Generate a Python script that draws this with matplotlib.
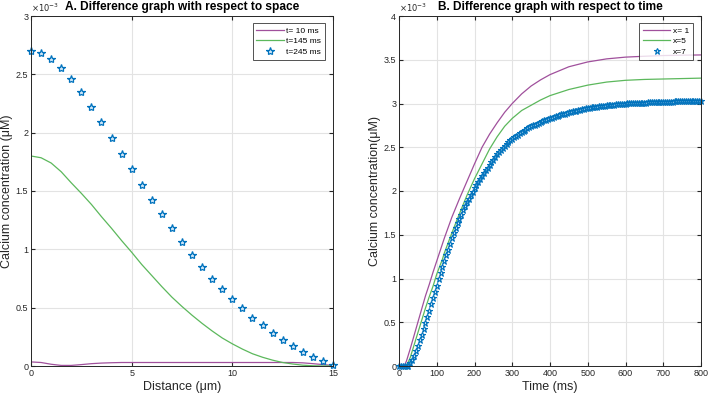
import matplotlib.pyplot as plt
import numpy as np
from matplotlib.ticker import FuncFormatter

plt.rcParams['font.family'] = ['Liberation Sans', 'DejaVu Sans']

# ---- panel A: concentration (x1e-3 uM) vs distance (um) ----
dist = [0, 0.5, 1, 1.5, 2, 2.5, 3, 3.5, 4, 4.5, 5, 5.5, 6, 6.5, 7, 7.5,
        8, 8.5, 9, 9.5, 10, 10.5, 11, 11.5, 12, 12.5, 13, 13.5, 14, 14.5, 15]
t10 = [0.035, 0.03, 0.015, 0.005, 0.005, 0.012, 0.02, 0.025, 0.028, 0.03, 0.03,
       0.03, 0.03, 0.03, 0.03, 0.03, 0.03, 0.03, 0.03, 0.03, 0.03, 0.03, 0.03,
       0.03, 0.03, 0.03, 0.03, 0.027, 0.02, 0.012, 0.005]
t145 = [1.80, 1.785, 1.74, 1.665, 1.57, 1.48, 1.385, 1.28, 1.18, 1.075, 0.975,
        0.87, 0.775, 0.68, 0.59, 0.51, 0.435, 0.365, 0.30, 0.24, 0.19, 0.145,
        0.105, 0.075, 0.05, 0.03, 0.017, 0.007, 0.002, 0.0, 0.0]
t245 = [2.70, 2.683, 2.631, 2.556, 2.458, 2.346, 2.222, 2.095, 1.957, 1.818,
        1.689, 1.550, 1.424, 1.306, 1.18, 1.066, 0.954, 0.851, 0.749, 0.66,
        0.574, 0.494, 0.414, 0.349, 0.286, 0.223, 0.171, 0.12, 0.08, 0.04, 0.005]

# ---- panel B: concentration (x1e-3 uM) vs time (ms) ----
tx1 = [0, 10, 15, 20, 30, 40, 50, 60, 70, 80, 90, 100, 120, 140, 160, 180, 200,
       220, 240, 260, 280, 300, 325, 350, 375, 400, 450, 500, 550, 600, 650,
       700, 750, 800]
x1 = [0, 0, 0.01, 0.06, 0.2, 0.35, 0.5, 0.65, 0.8, 0.93, 1.07, 1.2, 1.46, 1.70,
      1.91, 2.11, 2.31, 2.50, 2.65, 2.78, 2.90, 3.00, 3.11, 3.20, 3.27, 3.33,
      3.42, 3.475, 3.51, 3.53, 3.54, 3.548, 3.552, 3.555]
tx5 = [0, 15, 20, 25, 30, 40, 50, 60, 70, 80, 90, 100, 115, 120, 140, 160, 180,
       200, 220, 240, 260, 280, 300, 325, 350, 375, 400, 450, 500, 550, 600,
       650, 700, 750, 800]
x5 = [0, 0, 0.01, 0.05, 0.1, 0.24, 0.38, 0.52, 0.66, 0.79, 0.91, 1.05, 1.22,
      1.29, 1.52, 1.74, 1.95, 2.14, 2.31, 2.48, 2.62, 2.74, 2.83, 2.92, 2.98,
      3.04, 3.09, 3.16, 3.21, 3.245, 3.265, 3.275, 3.28, 3.285, 3.29]
tx7 = np.arange(0, 805, 5)
x7 = [0, 0, 0, 0, 0, 0.005, 0.03, 0.07, 0.12, 0.175,
      0.23, 0.295, 0.36, 0.425, 0.49, 0.56, 0.63, 0.705, 0.78, 0.85,
      0.92, 0.99, 1.06, 1.13, 1.20, 1.265, 1.33, 1.395, 1.46, 1.52,
      1.575, 1.63, 1.68, 1.73, 1.78, 1.825, 1.87, 1.91, 1.95, 1.99,
      2.03, 2.065, 2.10, 2.135, 2.17, 2.20, 2.235, 2.265, 2.30, 2.33,
      2.36, 2.39, 2.42, 2.445, 2.47, 2.495, 2.52, 2.54, 2.56, 2.58,
      2.60, 2.615, 2.63, 2.645, 2.66, 2.675, 2.69, 2.70, 2.715, 2.73,
      2.74, 2.75, 2.76, 2.77, 2.78, 2.79, 2.80, 2.81, 2.815, 2.825,
      2.83, 2.84, 2.845, 2.855, 2.86, 2.865, 2.875, 2.88, 2.885, 2.89,
      2.90, 2.905, 2.91, 2.915, 2.92, 2.925, 2.93, 2.935, 2.94, 2.945,
      2.95, 2.953, 2.956, 2.959, 2.962, 2.965, 2.968, 2.971, 2.974, 2.977,
      2.98, 2.982, 2.984, 2.986, 2.988, 2.99, 2.992, 2.994, 2.996, 2.998,
      3.0, 3.001, 3.002, 3.003, 3.004, 3.005, 3.006, 3.007, 3.008, 3.009,
      3.01, 3.011, 3.012, 3.013, 3.014, 3.015, 3.016, 3.017, 3.018, 3.019,
      3.02, 3.02, 3.021, 3.021, 3.022, 3.022, 3.023, 3.023, 3.024, 3.024,
      3.025, 3.025, 3.026, 3.026, 3.027, 3.027, 3.028, 3.028, 3.029, 3.029,
      3.03]

purple = '#a0509c'
green = '#5cb85c'
blue = '#0072bd'
dark = '#262626'

fig = plt.figure(figsize=(7.08, 3.97), dpi=100)
ax1 = fig.add_axes([31/708, 31/397, 302/708, 350/397])
ax2 = fig.add_axes([399/708, 31/397, 302/708, 350/397])


def style(ax):
    ax.grid(True, color='#e3e3e3', linewidth=0.8)
    ax.set_axisbelow(True)
    ax.tick_params(direction='in', top=True, right=True, length=3,
                   labelsize=6.5, colors=dark, pad=2)
    for s in ax.spines.values():
        s.set_color(dark)
        s.set_linewidth(0.7)
    ax.yaxis.set_major_formatter(FuncFormatter(lambda v, p: f'{v:g}'))
    ax.text(0.0, 1.006, r'$\times10^{-3}$', transform=ax.transAxes,
            fontsize=6, color=dark, ha='left', va='bottom')


def legend(ax):
    leg = ax.legend(loc='upper right', fontsize=6, frameon=True, fancybox=False,
                    edgecolor=dark, borderpad=0.45, handlelength=3.3,
                    handletextpad=0.3, labelspacing=0.35, borderaxespad=0,
                    bbox_to_anchor=(0.9735, 0.98))
    leg.get_frame().set_linewidth(0.7)


ax1.plot(dist, t10, color=purple, lw=0.9, label='t= 10 ms')
ax1.plot(dist, t145, color=green, lw=0.9, label='t=145 ms')
ax1.plot(dist, t245, ls='none', marker='*', ms=6, mfc='#cfe6f7', mec=blue,
         mew=0.9, label='t=245 ms', clip_on=False)
ax1.set_xlim(0, 15)
ax1.set_ylim(0, 3)
ax1.set_xticks([0, 5, 10, 15])
ax1.set_yticks(np.arange(0, 3.01, 0.5))
style(ax1)
ax1.set_xlabel('Distance (μm)', fontsize=9, color=dark, labelpad=2)
ax1.set_ylabel('Calcium concentration (μM)', fontsize=9, color=dark, labelpad=2)
ax1.set_title('A. Difference graph with respect to space', fontsize=8.6,
              fontweight='bold', pad=4)
legend(ax1)

ax2.plot(tx1, x1, color=purple, lw=0.9, label='x= 1')
ax2.plot(tx5, x5, color=green, lw=0.9, label='x=5')
ax2.plot(tx7, x7, ls='none', marker='*', ms=5, mfc='#cfe6f7', mec=blue,
         mew=0.8, label='x=7', clip_on=False)
ax2.set_xlim(0, 800)
ax2.set_ylim(0, 4)
ax2.set_xticks(np.arange(0, 801, 100))
ax2.set_yticks(np.arange(0, 4.01, 0.5))
style(ax2)
ax2.set_xlabel('Time (ms)', fontsize=9, color=dark, labelpad=2)
ax2.set_ylabel('Calcium concentration(μM)', fontsize=9, color=dark, labelpad=2)
ax2.set_title('B. Difference graph with respect to time', fontsize=8.6,
              fontweight='bold', pad=4)
legend(ax2)

plt.savefig('out.png', dpi=100)
